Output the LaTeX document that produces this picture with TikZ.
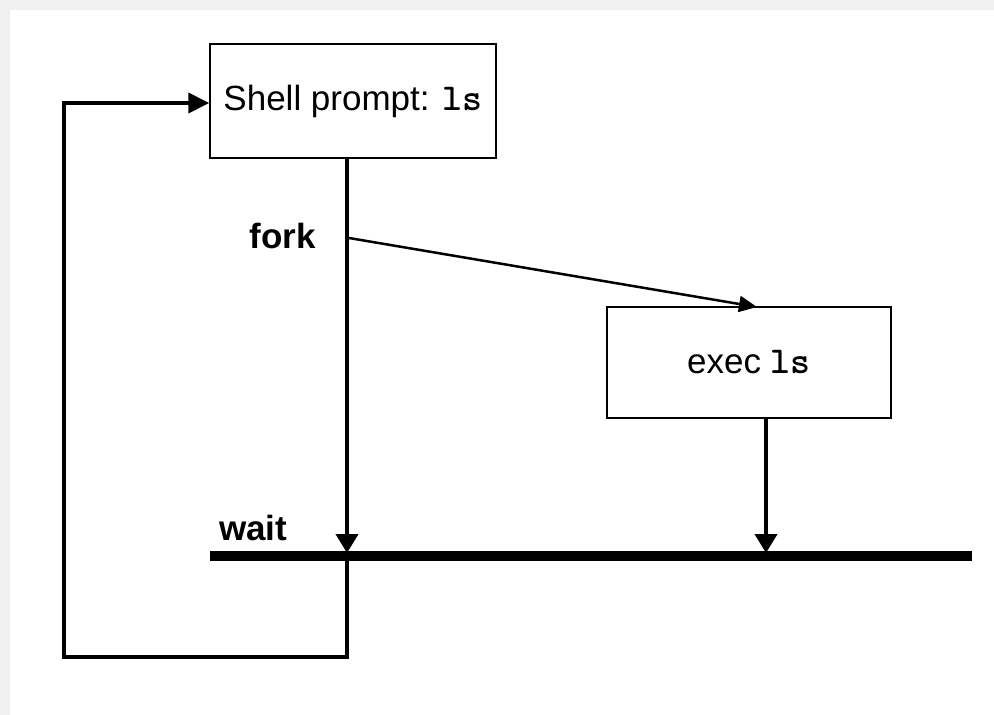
\documentclass[tikz,border=0pt]{standalone}
\usepackage{fontspec}
\setmainfont{Liberation Sans}
\usetikzlibrary{arrows.meta}
\newcommand{\code}[1]{{\ttfamily\bfseries\fontsize{38}{42}\selectfont #1}}

\begin{document}
\begin{tikzpicture}[x=1pt,y=-1pt,
  txt/.style={font=\fontsize{35}{42}\selectfont},
  procbox/.style={draw, line width=1.5pt, inner sep=0pt, txt},
  lbl/.style={inner sep=0pt, font=\fontsize{35}{42}\selectfont\bfseries},
  flow/.style={line width=4pt, -{Triangle[length=19pt,width=22pt]}},
  spawn/.style={line width=2.5pt, -{Triangle[length=18pt,width=16pt]}},
  bar/.style={line width=10pt}]

  % page frame
  \useasboundingbox (0,0) rectangle (994,715);
  \fill[black!6] (0,0) rectangle (994,715);
  \fill[white] (10,10) rectangle (994,715);

  % processes
  \node[procbox, minimum width=286pt, minimum height=114pt] (shell) at (353,101)
    {Shell prompt: \code{ls}};
  \node[procbox, minimum width=284pt, minimum height=111pt] (exec) at (749,362.5)
    {exec \code{ls}};

  % labels
  \node[lbl, anchor=base east] (forklbl) at (316,248) {fork};
  \node[lbl, anchor=base west] (waitlbl) at (219,540) {wait};

  % reference points
  \coordinate (forkpt) at (349,238);
  \coordinate (ftip)   at (757,307);
  \coordinate (waitL)  at (210,556);
  \coordinate (waitR)  at (972,556);
  \coordinate (join1)  at (347,553);
  \coordinate (join2)  at (766,553);
  \coordinate (loopA)  at (347,657);
  \coordinate (loopB)  at (64,657);
  \coordinate (loopC)  at (64,103);

  % wait barrier
  \draw[bar] (waitL) -- (waitR);

  % parent and child flows
  \draw[flow] (shell.south -| join1) -- (join1);
  \draw[flow] (exec.south -| join2) -- (join2);
  \draw[spawn] (forkpt) -- (ftip);

  % back to the prompt
  \draw[line width=4pt, line join=miter, -{Triangle[length=21pt,width=20pt]}]
    (join1) -- (loopA) -- (loopB) -- (loopC) -- (shell.west |- loopC);
\end{tikzpicture}
\end{document}
